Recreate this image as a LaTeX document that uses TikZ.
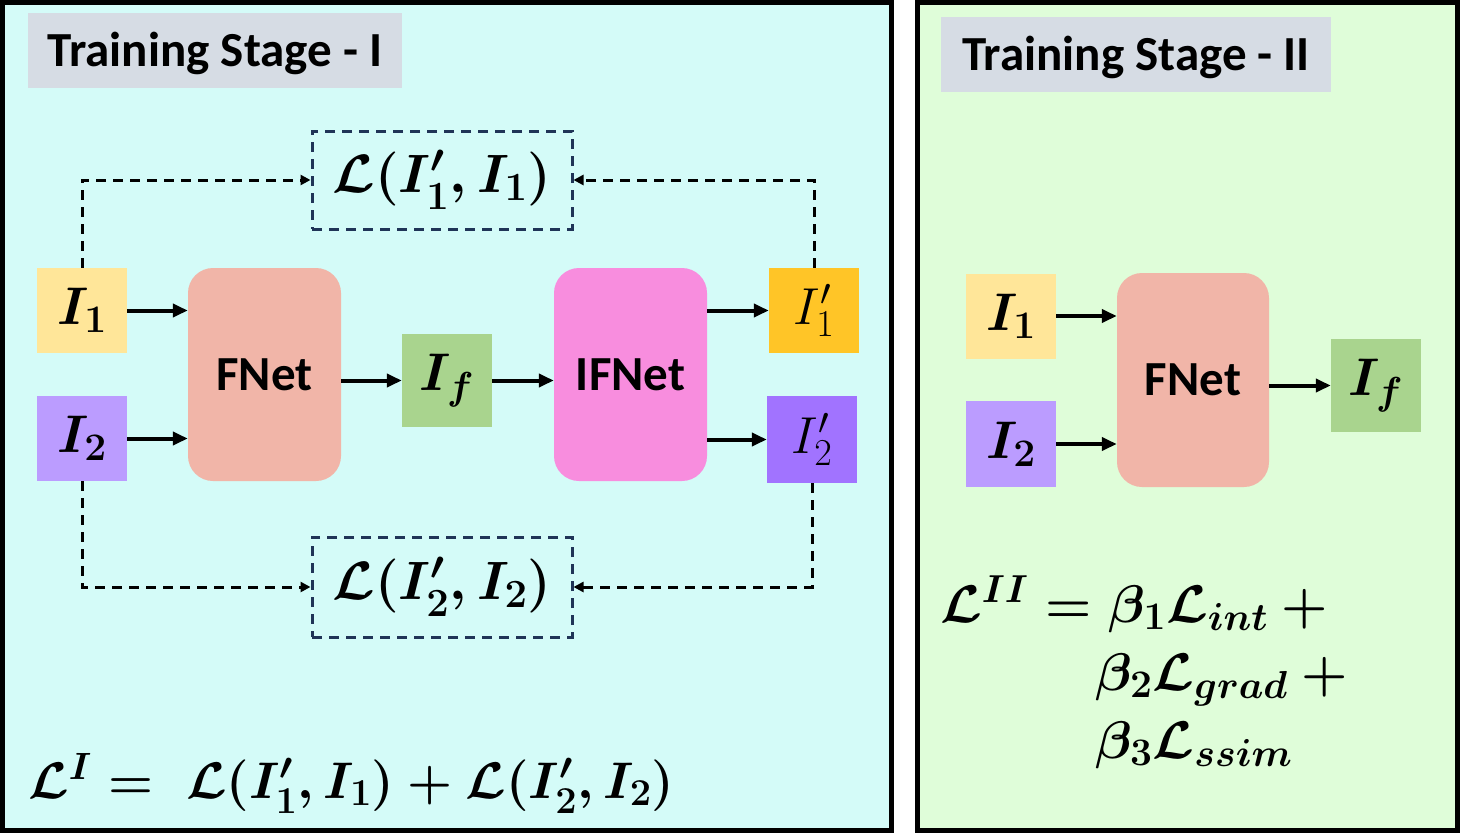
\RequirePackage{fix-cm}
\documentclass[tikz,border=0pt]{standalone}
\usepackage{amsmath}
\usepackage{fontspec}
\newfontfamily\carlito{Carlito}
\usetikzlibrary{arrows.meta}
\DeclareMathSizes{53}{53}{39}{29}
\DeclareMathSizes{52}{52}{38}{28}
\DeclareMathSizes{54}{54}{40}{30}
\DeclareMathSizes{51.5}{51.5}{38}{28}
\definecolor{bgA}{HTML}{D4FBF8}
\definecolor{bgB}{HTML}{DFFDD9}
\definecolor{titlegray}{HTML}{D6DCE4}
\definecolor{cyel}{HTML}{FFE699}
\definecolor{cpur}{HTML}{BB9CFF}
\definecolor{cnet}{HTML}{F1B5A8}
\definecolor{cif}{HTML}{A9D48E}
\definecolor{cifnet}{HTML}{F88DDE}
\definecolor{corg}{HTML}{FFC527}
\definecolor{cpur2}{HTML}{A173FF}
\definecolor{navy}{HTML}{1F3457}
\begin{document}
\begin{tikzpicture}[x=1pt,y=-1pt,
  paneltitle/.style={fill=titlegray, inner sep=0pt, text height=31.6pt, text depth=0pt, font=\carlito\bfseries\fontsize{49}{58}\selectfont},
  imgbox/.style={minimum width=90pt, minimum height=85pt, inner sep=0pt, font=\fontsize{53}{60}\selectfont\boldmath},
  imgboxp/.style={minimum width=90pt, minimum height=85pt, inner sep=0pt, font=\fontsize{52}{60}\selectfont},
  net/.style={rounded corners=25pt, minimum width=153pt, minimum height=213pt, inner sep=0pt, font=\carlito\bfseries\fontsize{49}{58}\selectfont},
  arr/.style={line width=4pt, -{Triangle[length=15pt,width=13pt]}},
  darr/.style={line width=3pt, dash pattern=on 10pt off 7pt, -{Triangle[length=10pt,width=10pt]}},
  lossbox/.style={draw=navy, line width=3pt, dash pattern=on 10pt off 7pt, minimum width=260pt, minimum height=98pt, inner sep=0pt, font=\fontsize{54}{60}\selectfont\boldmath},
  formula/.style={inner sep=0pt, anchor=base west, font=\fontsize{53}{60}\selectfont\boldmath}
]
\useasboundingbox (0,0) rectangle (1460,833);
\fill[white] (0,0) rectangle (1460,833);
% panels
\path[fill=bgA, draw=black, line width=5pt] (2.5,2.5) rectangle (891.5,830.5);
\path[fill=bgB, draw=black, line width=5pt] (917.5,2.5) rectangle (1457.5,830.5);

% titles
\node[paneltitle, minimum width=374pt, minimum height=75pt] (t1) at (215,50.5) {Training Stage - I};
\node[paneltitle, minimum width=390pt, minimum height=75pt] (t2) at (1136,54.5) {Training Stage - II};

% stage I nodes
\node[imgbox, fill=cyel] (I1) at (82,310.5) {$I_1$};
\node[imgbox, fill=cpur] (I2) at (82,438.5) {$I_2$};
\node[net, fill=cnet] (FN) at (264.5,374.5) {FNet};
\node[imgbox, fill=cif, minimum height=93pt] (If) at (447,380.5) {$I_f$};
\node[net, fill=cifnet] (IFN) at (630.5,374.5) {IFNet};
\node[imgboxp, fill=corg] (I1p) at (814,310.5) {$I'_1$};
\node[imgboxp, fill=cpur2, minimum height=87pt] (I2p) at (812,439.5) {$I'_2$};

\node[lossbox] (L1) at (442,180) {$\mathcal{L}(I'_1,I_1)$};
\node[lossbox, minimum height=100pt] (L2) at (442,587) {$\mathcal{L}(I'_2,I_2)$};

\draw[arr] (I1.east) -- (I1.east -| FN.west);
\draw[arr] (I2.east) -- (I2.east -| FN.west);
\draw[arr] (If.west -| FN.east) -- (If.west);
\draw[arr] (If.east) -- (If.east -| IFN.west);
\draw[arr] (I1p.west -| IFN.east) -- (I1p.west);
\draw[arr] (I2p.west -| IFN.east) -- (I2p.west);

\draw[darr] (I1.north) |- (L1.west);
\draw[darr] (I1p.north) |- (L1.east);
\draw[darr] (I2.south) |- (L2.west);
\draw[darr] (I2p.south) |- (L2.east);

\node[formula, font=\fontsize{51.5}{60}\selectfont\boldmath] (F1) at (28,798) {$\mathcal{L}^{I} = \;\mathcal{L}(I'_1,I_1)+\mathcal{L}(I'_2,I_2)$};

% stage II nodes
\node[imgbox, fill=cyel] (J1) at (1011,316) {$I_1$};
\node[imgbox, fill=cpur, minimum height=86pt] (J2) at (1011,444) {$I_2$};
\node[net, fill=cnet, minimum width=152pt, minimum height=214pt] (FN2) at (1193,380) {FNet};
\node[imgbox, fill=cif, minimum height=93pt] (Jf) at (1376,385.5) {$I_f$};

\draw[arr] (J1.east) -- (J1.east -| FN2.west);
\draw[arr] (J2.east) -- (J2.east -| FN2.west);
\draw[arr] (Jf.west -| FN2.east) -- (Jf.west);

\node[formula] (G1) at (940,622) {$\mathcal{L}^{II} = \beta_1\mathcal{L}_{int} +{}$};
\node[formula] (G2) at (1095,690) {$\beta_2\mathcal{L}_{grad} +{}$};
\node[formula] (G3) at (1095,758) {$\beta_3\mathcal{L}_{ssim}$};
\end{tikzpicture}
\end{document}
